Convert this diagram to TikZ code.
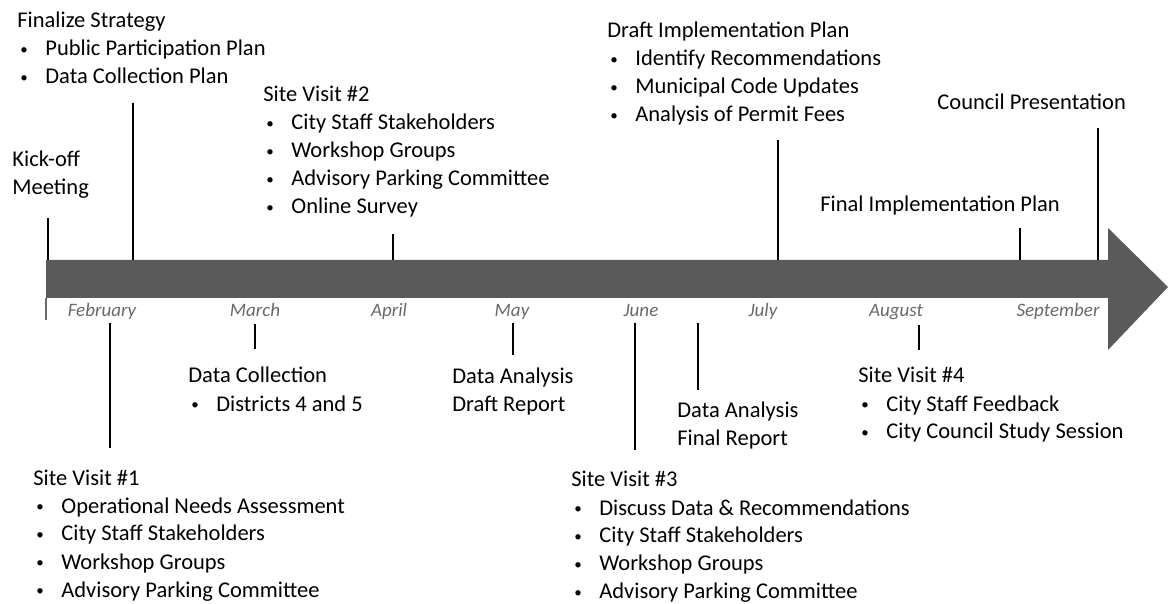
\documentclass[tikz,border=0pt]{standalone}
\usepackage{fontspec}
\setmainfont{Carlito}
\usepackage{xcolor}

\definecolor{barfill}{RGB}{90,90,90}
\definecolor{monthgray}{RGB}{105,105,105}
\newcommand{\blk}[1]{\begin{tabular}[t]{@{}l@{}}#1\end{tabular}}
\newcommand{\bul}[1]{\hspace*{1.5pt}\makebox[12.5pt][l]{\raisebox{0.9pt}{\fontsize{7.5}{8}\selectfont\textbullet}}#1}

\tikzset{
	evtext/.style={anchor=base west, inner sep=0pt, font=\fontsize{11.25}{14}\selectfont},
	month/.style={anchor=base, inner sep=0pt, font=\fontsize{9.5}{11}\selectfont\itshape, text=monthgray},
	tick/.style={line width=1pt}
}

\begin{document}
\begin{tikzpicture}[x=0.5pt, y=-0.5pt]
	\useasboundingbox (0,0) rectangle (1168,604);
	% timeline arrow
	\fill[barfill] (46,260) -- (1108,260) -- (1108,228) -- (1168,287) -- (1108,350) -- (1108,298) -- (46,298) -- cycle;
	\coordinate (s0) at (46,298);
	\coordinate (s1) at (46,320);
	\draw[monthgray, line width=0.6pt] (s0) -- (s1);
	% months
	\node (feb) [month] at (102,317) {February};
	\node (mar) [month] at (255,317) {March};
	\node (apr) [month] at (389,317) {April};
	\node (may) [month] at (512,317) {May};
	\node (jun) [month] at (641,317) {June};
	\node (jul) [month] at (763,317) {July};
	\node (aug) [month] at (896,317) {August};
	\node (sep) [month] at (1058,317) {September};
	% events above
	\node (kick) [evtext] at (12,167) {\blk{Kick-off\\Meeting}};
	\node (fin) [evtext] at (17,28) {\blk{Finalize Strategy\\\bul{Public Participation Plan}\\\bul{Data Collection Plan}}};
	\node (sv2) [evtext] at (263,102) {\blk{Site Visit \#2\\\bul{City Staff Stakeholders}\\\bul{Workshop Groups}\\\bul{Advisory Parking Committee}\\\bul{Online Survey}}};
	\node (dip) [evtext] at (607,38) {\blk{Draft Implementation Plan\\\bul{Identify Recommendations}\\\bul{Municipal Code Updates}\\\bul{Analysis of Permit Fees}}};
	\node (fip) [evtext] at (820,212) {Final Implementation Plan};
	\node (cp) [evtext] at (937,110) {Council Presentation};
	% events below
	\node (sv1) [evtext] at (33,485) {\blk{Site Visit \#1\\\bul{Operational Needs Assessment}\\\bul{City Staff Stakeholders}\\\bul{Workshop Groups}\\\bul{Advisory Parking Committee}}};
	\node (dc) [evtext] at (188,383) {\blk{Data Collection\\\bul{Districts 4 and 5}}};
	\node (dad) [evtext] at (452,384) {\blk{Data Analysis\\Draft Report}};
	\node (sv3) [evtext] at (571,487) {\blk{Site Visit \#3\\\bul{Discuss Data \& Recommendations}\\\bul{City Staff Stakeholders}\\\bul{Workshop Groups}\\\bul{Advisory Parking Committee}}};
	\node (daf) [evtext] at (677,417) {\blk{Data Analysis\\Final Report}};
	\node (sv4) [evtext] at (858,383) {\blk{Site Visit \#4\\\bul{City Staff Feedback}\\\bul{City Council Study Session}}};
	% line ends
	\coordinate (kick0) at (48,260);   \coordinate (kick1) at (48,218);
	\coordinate (fin0) at (133,260);   \coordinate (fin1) at (133,103);
	\coordinate (sv20) at (393,260);   \coordinate (sv21) at (393,234);
	\coordinate (dip0) at (778,260);   \coordinate (dip1) at (778,140);
	\coordinate (fip0) at (1020,260);  \coordinate (fip1) at (1020,228);
	\coordinate (cp0) at (1098,260);   \coordinate (cp1) at (1098,128);
	\coordinate (sv10) at (110,323);   \coordinate (sv11) at (110,448);
	\coordinate (dc0) at (255,324);    \coordinate (dc1) at (255,349);
	\coordinate (dad0) at (513,323);   \coordinate (dad1) at (513,355);
	\coordinate (sv30) at (635,323);   \coordinate (sv31) at (635,450);
	\coordinate (daf0) at (698,323);   \coordinate (daf1) at (698,390);
	\coordinate (sv40) at (919,325);   \coordinate (sv41) at (919,350);
	\draw[tick] (kick0) -- (kick1);
	\draw[tick] (fin0) -- (fin1);
	\draw[tick] (sv20) -- (sv21);
	\draw[tick] (dip0) -- (dip1);
	\draw[tick] (fip0) -- (fip1);
	\draw[tick] (cp0) -- (cp1);
	\draw[tick] (sv10) -- (sv11);
	\draw[tick] (dc0) -- (dc1);
	\draw[tick] (dad0) -- (dad1);
	\draw[tick] (sv30) -- (sv31);
	\draw[tick] (daf0) -- (daf1);
	\draw[tick] (sv40) -- (sv41);
\end{tikzpicture}
\end{document}
